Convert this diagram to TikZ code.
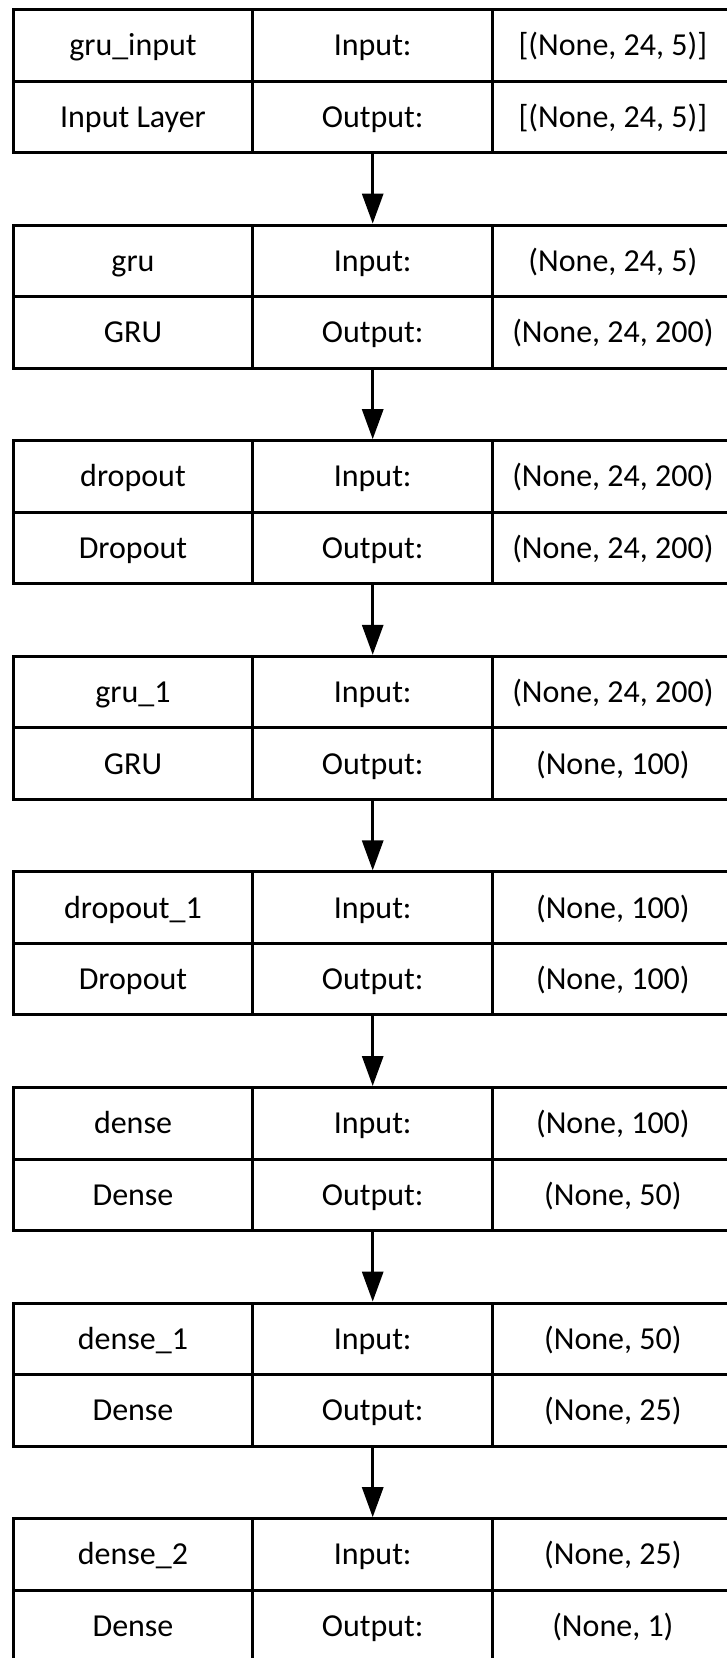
\documentclass[tikz,border=0pt]{standalone}
\usepackage{fontspec}
\setmainfont{Carlito}
\usetikzlibrary{arrows.meta}
\begin{document}
\begin{tikzpicture}[x=1pt,y=-1pt,
  cell/.style={draw, line width=3pt, rectangle, inner sep=0pt, outer sep=0pt,
    anchor=north west, minimum height=71.5pt,
    text height=28pt, text depth=7pt,
    font=\fontsize{32}{38}\selectfont},
  colA/.style={cell, minimum width=239.4pt},
  colB/.style={cell, minimum width=240pt},
  colC/.style={cell, minimum width=240.3pt},
  flow/.style={line width=3pt, -{Triangle[length=30pt,width=21pt]}, shorten >=1.5pt}
]
\useasboundingbox (0,0) rectangle (727,1658);
\clip (0,0) rectangle (727,1658);
\fill[white] (0,0) rectangle (727,1658);

% one layer block per row: name / type | Input: / Output: | shapes
\foreach \i/\nm/\ty/\inp/\outp in {
  0/{gru\_input}/{Input Layer}/{[(None, 24, 5)]}/{[(None, 24, 5)]},
  1/{gru}/{GRU}/{(None, 24, 5)}/{(None, 24, 200)},
  2/{dropout}/{Dropout}/{(None, 24, 200)}/{(None, 24, 200)},
  3/{gru\_1}/{GRU}/{(None, 24, 200)}/{(None, 100)},
  4/{dropout\_1}/{Dropout}/{(None, 100)}/{(None, 100)},
  5/{dense}/{Dense}/{(None, 100)}/{(None, 50)},
  6/{dense\_1}/{Dense}/{(None, 50)}/{(None, 25)},
  7/{dense\_2}/{Dense}/{(None, 25)}/{(None, 1)}} {
  \node[colA] (n\i) at (13.3, {9.5+215.6*\i}) {\nm};
  \node[colA] (t\i) at (13.3, {81+215.6*\i}) {\ty};
  \node[colB] (a\i) at (252.7, {9.5+215.6*\i}) {Input:};
  \node[colB] (b\i) at (252.7, {81+215.6*\i}) {Output:};
  \node[colC] (c\i) at (492.7, {9.5+215.6*\i}) {\inp};
  \node[colC] (d\i) at (492.7, {81+215.6*\i}) {\outp};
}

% connectors between consecutive layers
\foreach \i [evaluate=\i as \j using int(\i+1)] in {0,...,6} {
  \draw[flow] (b\i.south) -- (a\j.north);
}
\end{tikzpicture}
\end{document}
